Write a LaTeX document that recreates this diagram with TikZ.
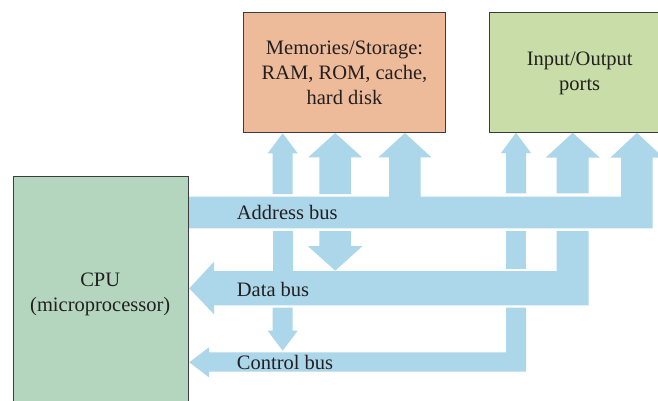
\documentclass[tikz,border=0pt]{standalone}
\usepackage{fontspec}
\setmainfont{Liberation Serif}
\definecolor{busblue}{RGB}{172,214,233}
\definecolor{memfill}{RGB}{237,187,153}
\definecolor{iofill}{RGB}{200,221,167}
\definecolor{cpufill}{RGB}{180,214,190}
\definecolor{edge}{RGB}{60,60,60}
\definecolor{ink}{RGB}{35,31,32}
\begin{document}
\begin{tikzpicture}[x=1pt,y=-1pt,
  box/.style={draw=edge,line width=1pt,anchor=north west,inner sep=0pt},
  lbl/.style={text=ink,font=\fontsize{20.5}{25}\selectfont,align=center,inner sep=0pt},
  buslbl/.style={text=ink,font=\fontsize{20.5}{25}\selectfont,anchor=west,inner sep=0pt},
  bus/.style={fill=busblue,draw=none}]
\useasboundingbox (0,0) rectangle (658,400);
\clip (0,0) rectangle (658,400);

% boxes
\node[box,fill=memfill,minimum width=201.7pt,minimum height=120pt] (mem) at (243.3,11.7) {};
\node[lbl] (memtext) at (344.5,73) {Memories/Storage:\\RAM, ROM, cache,\\hard disk};
\node[box,fill=iofill,minimum width=168.5pt,minimum height=120pt] (io) at (489,11.7) {};
\node[lbl] (iotext) at (579.7,73) {Input/Output\\ports};
\node[box,fill=cpufill,minimum width=175pt,minimum height=236.6pt] (cpu) at (12.7,175.7) {};
\node[lbl] (cputext) at (100.2,294) {CPU\\(microprocessor)};

% address bus (with arrows to memory and I/O)
\fill[bus] (189,196.7) -- (389,196.7) -- (389,157.3) -- (378.4,157.3) -- (404.9,133) -- (431.4,157.3)
  -- (420.7,157.3) -- (420.7,196.7) -- (621,196.7) -- (621,157.7) -- (610.3,157.7) -- (636.9,132.8)
  -- (663.5,157.7) -- (652.7,157.7) -- (652.7,228.3) -- (189,228.3) -- cycle;

% data bus
\fill[bus] (189.3,288.3) -- (214,261.7) -- (214,271) -- (556.7,271) -- (556.7,231) -- (588.7,231)
  -- (588.7,305.3) -- (214,305.3) -- (214,314.3) -- cycle;
% data arrows up (memory, I/O)
\fill[bus] (319.3,194) -- (319.3,157.3) -- (308.3,157.3) -- (335.2,133) -- (362.1,157.3) -- (351,157.3) -- (351,194) -- cycle;
\fill[bus] (556.7,193.3) -- (556.7,157.7) -- (545.6,157.7) -- (572.7,132.8) -- (599.8,157.7) -- (588.7,157.7) -- (588.7,193.3) -- cycle;
% data arrow down from memory
\fill[bus] (319.3,231) -- (351,231) -- (351,246) -- (362.6,246) -- (335.2,270.7) -- (307.8,246) -- (319.3,246) -- cycle;

% control bus
\fill[bus] (189.3,362.3) -- (209,347.3) -- (209,352.3) -- (506,352.3) -- (506,307.7) -- (526,307.7)
  -- (526,371.7) -- (209,371.7) -- (209,377.3) -- cycle;
\fill[bus] (506,231) rectangle (526,269.3);
\fill[bus] (506,193.3) -- (506,153) -- (501,153) -- (516,132.8) -- (531,153) -- (526,153) -- (526,193.3) -- cycle;
% control arrows at memory
\fill[bus] (272.7,194) -- (272.7,153.3) -- (267.7,153.3) -- (282.7,133.3) -- (297.7,153.3) -- (292.7,153.3) -- (292.7,194) -- cycle;
\fill[bus] (272.7,231) rectangle (292.7,270.7);
\fill[bus] (272.7,307.7) -- (292.7,307.7) -- (292.7,330.7) -- (297.7,330.7) -- (282.7,350.7) -- (267.7,330.7) -- (272.7,330.7) -- cycle;

% bus labels
\node[buslbl] (addr) at (236.7,212) {Address bus};
\node[buslbl] (data) at (236.7,289) {Data bus};
\node[buslbl] (ctrl) at (236.7,362) {Control bus};
\end{tikzpicture}
\end{document}
